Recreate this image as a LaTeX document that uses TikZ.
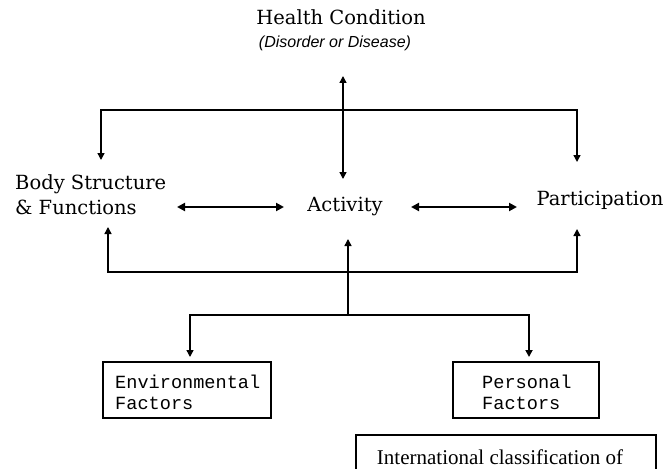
\documentclass[tikz,border=0pt]{standalone}
\usepackage{fontspec}
\setmainfont{DejaVu Serif}
\newfontfamily\monof{Liberation Mono}
\newfontfamily\sansf{Liberation Sans}
\newfontfamily\timesf{Liberation Serif}
\usetikzlibrary{arrows.meta}
\tikzset{
  lbl/.style={font=\fontsize{19.5}{25}\selectfont, inner sep=0pt},
  sub/.style={font=\sansf\itshape\fontsize{16}{18}\selectfont, inner sep=0pt},
  boxtxt/.style={font=\monof\fontsize{18.6}{21}\selectfont, inner sep=0pt, align=left},
  conn/.style={line width=1.4pt, -{Triangle[length=7pt,width=7pt]}},
  dbl/.style={line width=2.4pt, {Triangle[length=8pt,width=8pt]}-{Triangle[length=8pt,width=8pt]}},
  fbox/.style={draw, line width=1.3pt, inner sep=0pt},
}
\begin{document}
\begin{tikzpicture}[x=1pt,y=-1pt]
\useasboundingbox (0,0) rectangle (668,468);
\clip (0,0) rectangle (668,468);
\fill[white] (0,0) rectangle (668,468);
% labels
\node[lbl] (hc) at (341,17) {Health Condition};
\node[sub] (dd) at (335,43) {(Disorder or Disease)};
\node[lbl, align=left, anchor=west] (bs) at (15,195) {Body Structure\\\& Functions};
\node[lbl] (act) at (345,206) {Activity};
\node[lbl] (par) at (600,200) {Participation};
% boxes
\draw[fbox] (103,362) rectangle (271,418);
\node[boxtxt, anchor=west] (env) at (115,392) {Environmental\\Factors};
\draw[fbox] (453,362) rectangle (599,418);
\node[boxtxt, anchor=west] (per) at (482,392) {Personal\\Factors};
\draw[line width=1.8pt] (356,490) -- (356,435) -- (656,435) -- (656,490);
\node[font=\timesf\fontsize{21}{24}\selectfont, inner sep=0pt, anchor=base] (icf) at (500,464) {International classification of};
% coordinates
\coordinate (j1) at (343,110);
\coordinate (hcT) at (343,76);
\coordinate (actT) at (343,179);
\coordinate (bsT) at (101,160);
\coordinate (parT) at (577,162);
\coordinate (d1a) at (177,207);
\coordinate (d1b) at (284,207);
\coordinate (d2a) at (411,207);
\coordinate (d2b) at (517,207);
\coordinate (j2) at (348,272);
\coordinate (bsB) at (108,227);
\coordinate (parB) at (577,229);
\coordinate (actB) at (348,239);
\coordinate (j3) at (348,315);
\coordinate (envT) at (190,357);
\coordinate (perT) at (529,357);
% top connectors
\draw[conn] (j1) -- (hcT);
\draw[conn] (j1) -- (actT);
\draw[conn] (j1) -| (bsT);
\draw[conn] (j1) -| (parT);
% middle double arrows
\draw[dbl] (d1a) -- (d1b);
\draw[dbl] (d2a) -- (d2b);
% bottom connectors
\draw[conn] (j2) -| (bsB);
\draw[conn] (j2) -| (parB);
\draw[conn] (j3) -- (actB);
\draw[conn] (j3) -| (envT);
\draw[line width=1.4pt] (j3) -- (529,315);
\draw[line width=2.2pt, -{Triangle[length=7pt,width=7pt]}] (529,314) -- (perT);
\end{tikzpicture}
\end{document}
